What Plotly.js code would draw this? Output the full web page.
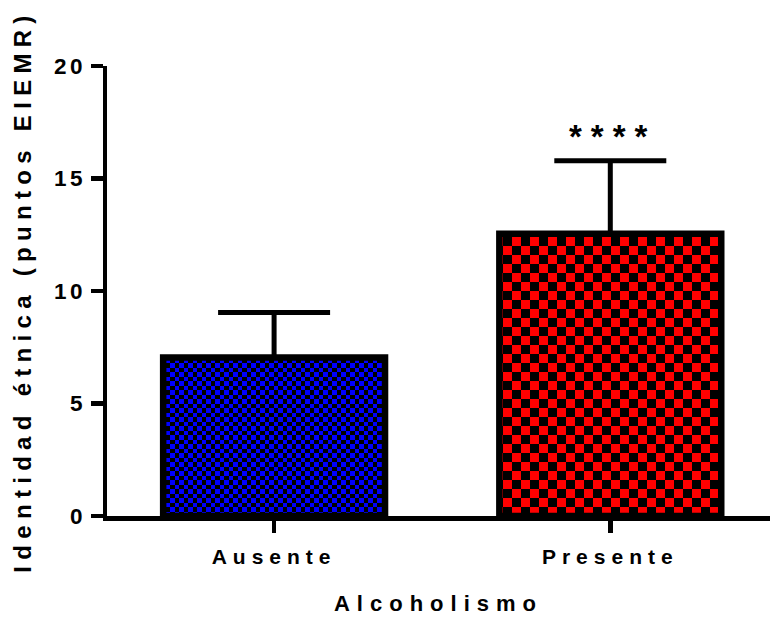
<!DOCTYPE html>
<html>
<head>
<meta charset="utf-8">
<script src="https://cdn.plot.ly/plotly-3.0.1.min.js"></script>
<style>
  html, body { margin: 0; padding: 0; background: #fff; }
  #chart { width: 770px; height: 620px; }
  #chart .xtick text { letter-spacing: 6px; }
  #chart .ytick text { letter-spacing: 3.5px; }
  #chart .g-xtitle text { letter-spacing: 7px; }
  #chart .g-ytitle text { letter-spacing: 6.3px; }
  #chart .annotation-text { letter-spacing: 9px; }
</style>
</head>
<body>
<div id="chart"></div>
<script>
// ---- data ----
const categories = ["Ausente", "Presente"];
const means = [7.05, 12.55];
const errUpper = [1.99, 3.24];
const yTickVals = [0, 5, 10, 15, 20];
const yTickText = ["0", "5", "10", "15", "20"];
const significance = "****";

// ---- style ----
const fillColors = ["#0000ff", "#ff0000"];
const checkSizes = [9, 18];
const fontFam = "Liberation Sans, Arial, sans-serif";

const trace = {
  type: "bar",
  x: categories,
  y: means,
  width: 0.66,
  marker: {
    color: fillColors,
    line: { color: "#000", width: 6.5 },
    pattern: { shape: ".", fgcolor: fillColors, bgcolor: "#000", size: checkSizes, solidity: 0.5, fillmode: "replace" }
  },
  error_y: {
    type: "data", symmetric: false,
    array: errUpper, arrayminus: [0, 0],
    color: "#000", thickness: 5, width: 56
  },
  hoverinfo: "none"
};

const layout = {
  width: 770, height: 620,
  margin: { l: 107, r: 0, t: 66, b: 104, pad: 0 },
  paper_bgcolor: "#fff", plot_bgcolor: "#fff",
  showlegend: false,
  font: { family: fontFam, color: "#000", size: 21, weight: "bold" },
  xaxis: {
    type: "category",
    range: [-0.497, 1.475],
    showline: true, linecolor: "#000", linewidth: 4.5,
    showgrid: false, zeroline: false,
    ticks: "outside", ticklen: 12, tickwidth: 4.5, tickcolor: "#000",
    ticklabelstandoff: 6,
    tickfont: { family: fontFam, size: 21, weight: "bold", color: "#000" },
    title: { text: "Alcoholismo", font: { family: fontFam, size: 22, weight: "bold", color: "#000" }, standoff: 30 },
    automargin: false
  },
  yaxis: {
    range: [0, 20],
    tickvals: yTickVals, ticktext: yTickText,
    showline: true, linecolor: "#000", linewidth: 4.5,
    showgrid: false, zeroline: false,
    ticks: "outside", ticklen: 12, tickwidth: 4.5, tickcolor: "#000",
    ticklabelstandoff: 0,
    tickfont: { family: fontFam, size: 22.5, weight: "bold", color: "#000" },
    title: { text: "Identidad étnica (puntos EIEMR)", font: { family: fontFam, size: 24, weight: "bold", color: "#000" }, standoff: 24 },
    automargin: false
  },
  annotations: [{
    x: categories[1], y: means[1] + errUpper[1],
    xref: "x", yref: "y",
    text: significance, showarrow: false,
    yanchor: "bottom", yshift: 4, xshift: 3,
    font: { family: fontFam, size: 33, weight: "bold", color: "#000" }
  }]
};

function checkerize(gd) {
  const paths = gd.querySelectorAll(".trace.bars .point path");
  paths.forEach((p, i) => {
    const f = p.style.fill || p.getAttribute("fill") || "";
    const m = f.match(/url\(["']?#([^"')]+)["']?\)/);
    if (!m) return;
    const pat = document.getElementById(m[1]);
    if (!pat) return;
    const s = checkSizes[i % checkSizes.length];
    const c = fillColors[i % fillColors.length];
    const h = s / 2;
    const ns = "http://www.w3.org/2000/svg";
    while (pat.firstChild) pat.removeChild(pat.firstChild);
    pat.setAttribute("width", s);
    pat.setAttribute("height", s);
    const mk = (x, y, w, hh, col) => {
      const r = document.createElementNS(ns, "rect");
      r.setAttribute("x", x); r.setAttribute("y", y);
      r.setAttribute("width", w); r.setAttribute("height", hh);
      r.setAttribute("fill", col);
      r.setAttribute("shape-rendering", "crispEdges");
      pat.appendChild(r);
    };
    mk(0, 0, s, s, "#000");
    mk(0, 0, h, h, c);
    mk(h, h, h, h, c);
  });
}

const gd = document.getElementById("chart");
Plotly.newPlot(gd, [trace], layout, { staticPlot: true, displayModeBar: false }).then(() => {
  checkerize(gd);
  gd.on && gd.on("plotly_afterplot", () => checkerize(gd));
});
</script>
</body>
</html>
